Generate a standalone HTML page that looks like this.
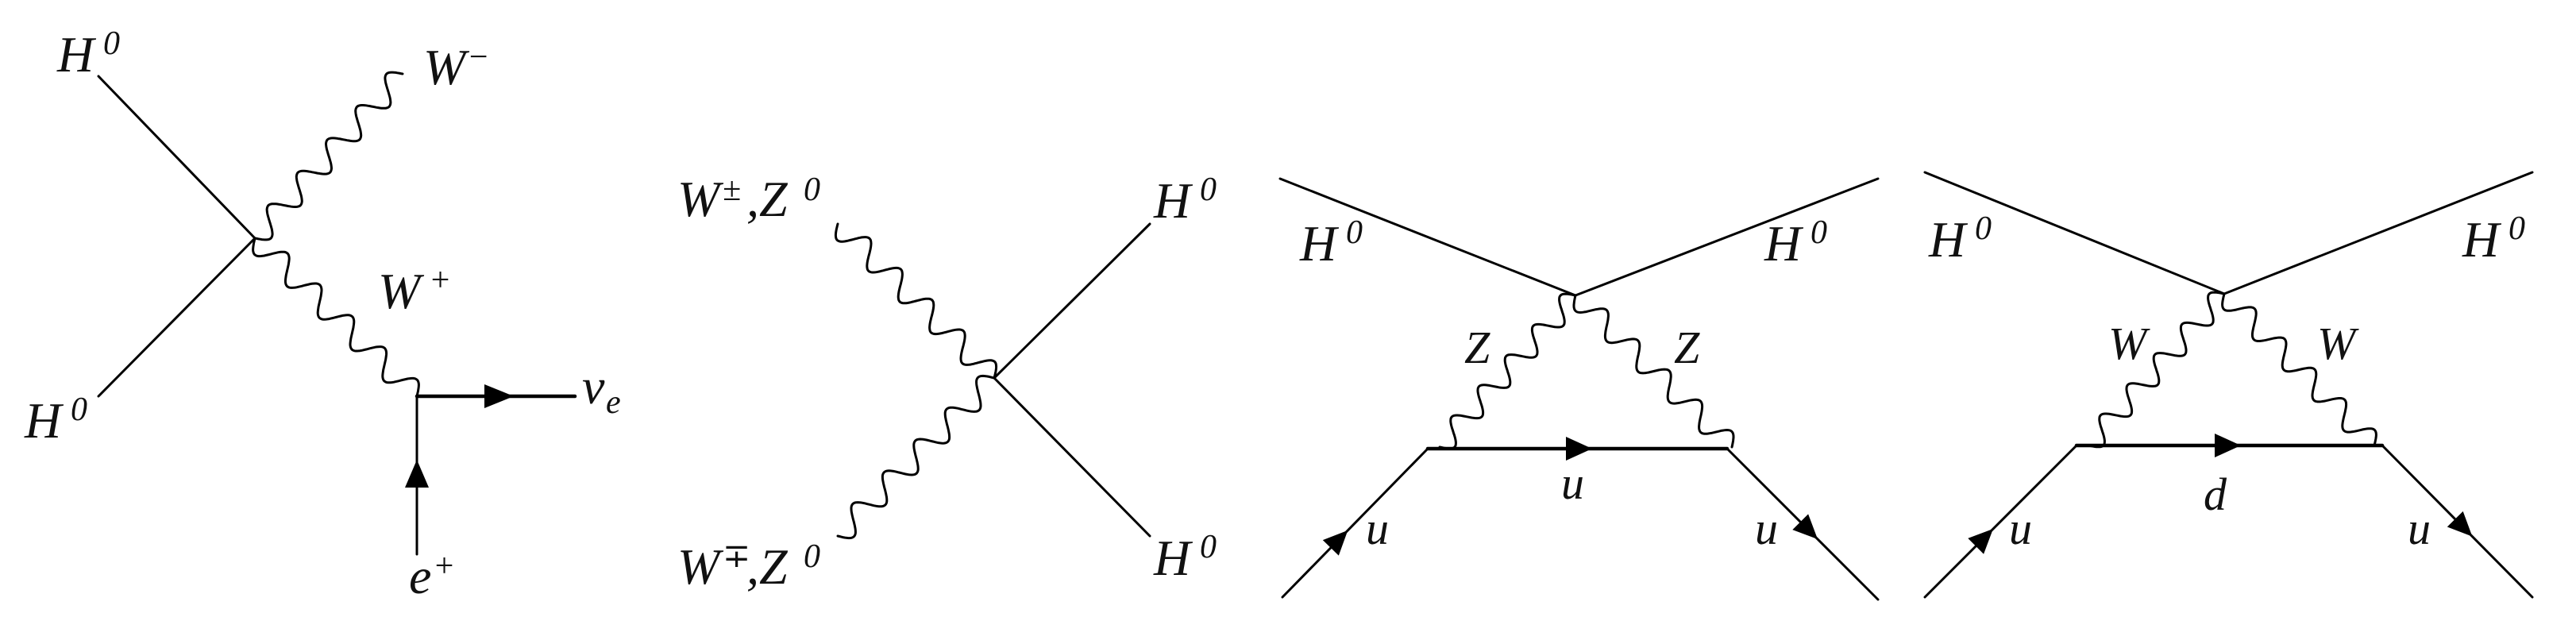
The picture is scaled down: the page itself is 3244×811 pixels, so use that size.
<!DOCTYPE html>
<html><head><meta charset="utf-8"><style>
html,body{margin:0;padding:0;background:#fff;}
svg{display:block;}
text{font-family:"Liberation Serif","DejaVu Serif",serif;font-style:italic;fill:#111;}
.b{font-size:64px;}
.s{font-size:42px;}
.m{font-size:58px;}
</style></head><body>
<svg id="sv" width="3244" height="811" viewBox="0 0 3244 811" xmlns="http://www.w3.org/2000/svg">
<g stroke="#000" stroke-width="3" fill="none" stroke-linecap="round">
<line x1="124" y1="96" x2="321" y2="300"/>
<line x1="321" y1="300" x2="124" y2="499"/>
<line x1="525" y1="499" x2="724" y2="499" stroke-width="4.5"/>
<line x1="525" y1="499" x2="525" y2="698"/>
<line x1="1252" y1="476" x2="1448" y2="282"/>
<line x1="1252" y1="476" x2="1448" y2="675"/>
<line x1="1612" y1="225" x2="1984" y2="372"/>
<line x1="1984" y1="372" x2="2365" y2="225"/>
<line x1="1798" y1="565" x2="2175" y2="565" stroke-width="4.5"/>
<line x1="1615" y1="752" x2="1798" y2="565"/>
<line x1="2175" y1="565" x2="2365" y2="755"/>
<line x1="2424" y1="217" x2="2801" y2="370"/>
<line x1="2801" y1="370" x2="3189" y2="217"/>
<line x1="2615" y1="561" x2="3000" y2="561" stroke-width="4.5"/>
<line x1="2424" y1="752" x2="2615" y2="561"/>
<line x1="3000" y1="561" x2="3189" y2="752"/>
<g id="waves"></g>
</g>
<g fill="#000">
<polygon points="610,484 647,499 610,514"/>
<polygon points="525,579 510,614 540,614"/>
<polygon points="2005,565 1972,550 1972,580"/>
<polygon points="2822,561 2789,546 2789,576"/>
</g>
<g id="farrows" fill="#000"></g>
<g font-family="Liberation Serif, DejaVu Serif, serif" font-style="italic">
<text class="b" x="72" y="90">H</text><text class="s" x="130" y="68">0</text>
<text class="b" x="31" y="551">H</text><text class="s" x="89" y="529">0</text>
<text class="b" x="533" y="106">W</text><text class="s" x="588" y="85">−</text>
<text class="b" x="476" y="388">W</text><text class="s" x="540" y="366">+</text>
<text class="b" x="733" y="508">v</text><text class="s" x="763" y="520">e</text>
<text class="b" x="515" y="747">e</text><text class="s" x="545" y="726">+</text>
<text class="b" x="853" y="272">W</text><text class="s" x="910" y="252">±</text><text class="b" x="940" y="272">,Z</text><text class="s" x="1012" y="252">0</text>
<text class="b" x="853" y="735">W</text><text class="s" x="910" y="714">∓</text><text class="b" x="940" y="735">,Z</text><text class="s" x="1012" y="714">0</text>
<text class="b" x="1453" y="274">H</text><text class="s" x="1511" y="252">0</text>
<text class="b" x="1453" y="724">H</text><text class="s" x="1511" y="702">0</text>
<text class="b" x="1637" y="328">H</text><text class="s" x="1695" y="306">0</text>
<text class="b" x="2222" y="328">H</text><text class="s" x="2280" y="306">0</text>
<text class="m" x="1844" y="457">Z</text>
<text class="m" x="2108" y="457">Z</text>
<text class="m" x="1966" y="628">u</text>
<text class="m" x="1720" y="685">u</text>
<text class="m" x="2210" y="685">u</text>
<text class="b" x="2429" y="323">H</text><text class="s" x="2487" y="301">0</text>
<text class="b" x="3101" y="323">H</text><text class="s" x="3159" y="301">0</text>
<text class="m" x="2655" y="452">W</text>
<text class="m" x="2918" y="452">W</text>
<text class="m" x="2775" y="642">d</text>
<text class="m" x="2530" y="685">u</text>
<text class="m" x="3032" y="685">u</text>
</g>
</svg>
<script>
(function(){
var NS="http://www.w3.org/2000/svg";
function wave(x1,y1,x2,y2,n,a){
 var dx=x2-x1,dy=y2-y1,L=Math.hypot(dx,dy),ux=dx/L,uy=dy/L,px=-uy,py=ux;
 var d="M"+x1+","+y1,N=240;
 for(var i=1;i<=N;i++){var t=i/N,s=a*Math.sin(t*n*2*Math.PI);
  d+=" L"+(x1+dx*t+px*s).toFixed(1)+","+(y1+dy*t+py*s).toFixed(1);}
 var p=document.createElementNS(NS,"path");p.setAttribute("d",d);
 document.getElementById("waves").appendChild(p);
}
wave(321,300,507,93,5,15);
wave(321,300,525,499,5,15);
wave(1055,282,1252,476,5,15);
wave(1252,476,1055,675,5,15);
wave(1984,372,1813,563,5,14);
wave(1984,372,2181,563,5,14);
wave(2801,370,2630,561,5,14);
wave(2801,370,2990,561,5,14);
function arr(x1,y1,x2,y2,t,s){
 var dx=x2-x1,dy=y2-y1,L=Math.hypot(dx,dy),ux=dx/L,uy=dy/L,px=-uy,py=ux;
 var tx=x1+dx*t,ty=y1+dy*t,bx=tx-ux*s*2.2,by=ty-uy*s*2.2;
 var p=document.createElementNS(NS,"polygon");
 p.setAttribute("points",tx+","+ty+" "+(bx+px*s)+","+(by+py*s)+" "+(bx-px*s)+","+(by-py*s));
 document.getElementById("farrows").appendChild(p);
}
arr(1615,752,1798,565,0.45,14);
arr(2175,565,2365,755,0.6,14);
arr(2424,752,2615,561,0.45,14);
arr(3000,561,3189,752,0.6,14);
})();
</script>
</body></html>
